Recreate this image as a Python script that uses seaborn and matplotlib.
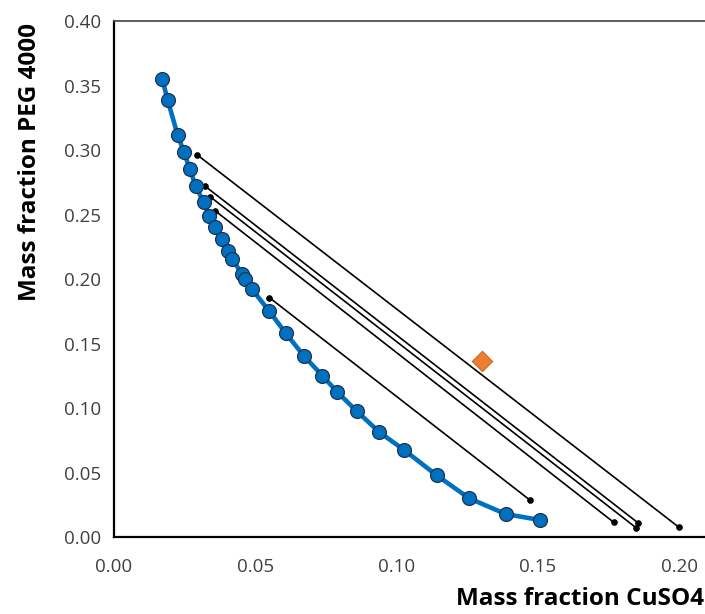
import pandas as pd
import matplotlib.pyplot as plt
import seaborn as sns

# === DATA ===
# Binodal curve (CuSO4, PEG 4000 mass fractions)
binodal_x = [0.0171, 0.0190, 0.0225, 0.0247, 0.0268, 0.0289, 0.0317, 0.0337, 0.0358,
             0.0381, 0.0404, 0.0419, 0.0452, 0.0465, 0.0488, 0.0548, 0.0608, 0.0673,
             0.0737, 0.0788, 0.0859, 0.0939, 0.1026, 0.1142, 0.1257, 0.1386, 0.1507]
binodal_y = [0.355, 0.339, 0.312, 0.299, 0.2856, 0.2724, 0.2597, 0.2492, 0.2409,
             0.2311, 0.2218, 0.2156, 0.2043, 0.2004, 0.1923, 0.1756, 0.158, 0.1402,
             0.1253, 0.1129, 0.0976, 0.0813, 0.0676, 0.0478, 0.0300, 0.0178, 0.0132]

# Tie lines: top phase (PEG-rich) and bottom phase (salt-rich) compositions
tie_top_x = [0.0295, 0.0323, 0.0341, 0.0358, 0.0550]
tie_top_y = [0.2964, 0.2721, 0.2639, 0.2531, 0.1857]
tie_bot_x = [0.1998, 0.1855, 0.1847, 0.1768, 0.1473]
tie_bot_y = [0.0077, 0.0108, 0.0072, 0.0114, 0.0284]

# Feed / mixture point
feed_x = [0.1302]
feed_y = [0.1363]

x_ticks = [0.00, 0.05, 0.10, 0.15, 0.20]
y_ticks = [0.00, 0.05, 0.10, 0.15, 0.20, 0.25, 0.30, 0.35, 0.40]

df_bin = pd.DataFrame({'x': binodal_x, 'y': binodal_y})
df_tie = pd.DataFrame({
    'x': tie_top_x + tie_bot_x,
    'y': tie_top_y + tie_bot_y,
    'line': list(range(len(tie_top_x))) * 2,
})
df_feed = pd.DataFrame({'x': feed_x, 'y': feed_y})

# === PLOT ===
sns.set_style('white')
plt.rcParams['font.family'] = ['Open Sans', 'DejaVu Sans']

fig = plt.figure(figsize=(7.05, 6.14), dpi=100)
ax = fig.add_axes([0.1617, 0.1254, 0.8383, 0.8396])

sns.lineplot(data=df_tie, x='x', y='y', units='line', estimator=None, sort=False,
             color='black', linewidth=1.2, marker='o', markersize=4,
             markeredgecolor='black', ax=ax, zorder=2)

sns.lineplot(data=df_bin, x='x', y='y', sort=False, estimator=None,
             color='#0070C0', linewidth=3.3, marker='o', markersize=10,
             markerfacecolor='#0070C0', markeredgecolor='#1F3350',
             markeredgewidth=0.9, ax=ax, zorder=3)

sns.scatterplot(data=df_feed, x='x', y='y', marker='D', s=110, color='#ED7D31',
                edgecolor='#C55A11', linewidth=0.6, ax=ax, zorder=4)

ax.set_xlim(0, 0.2091)
ax.set_ylim(0, 0.40)
ax.set_xticks(x_ticks)
ax.set_yticks(y_ticks)
ax.set_xticklabels([f'{t:.2f}' for t in x_ticks])
ax.set_yticklabels([f'{t:.2f}' for t in y_ticks])
ax.tick_params(axis='both', direction='out', length=5, width=1, color='#404040',
               labelsize=13.5, labelcolor='#404040', pad=4)
ax.tick_params(axis='x', pad=10)

for side in ['left', 'bottom']:
    ax.spines[side].set_color('black')
    ax.spines[side].set_linewidth(1.6)
ax.spines['top'].set_color('#505050')
ax.spines['top'].set_linewidth(1.3)
ax.spines['right'].set_visible(False)

ax.set_xlabel('Mass fraction CuSO4', fontsize=17.5, fontweight='bold', color='black')
ax.set_ylabel('Mass fraction PEG 4000', fontsize=17.5, fontweight='bold', color='black')
ax.xaxis.set_label_coords(0.788, -0.097)
ax.yaxis.set_label_coords(-0.122, 0.728)

fig.savefig('out.png', dpi=100)
